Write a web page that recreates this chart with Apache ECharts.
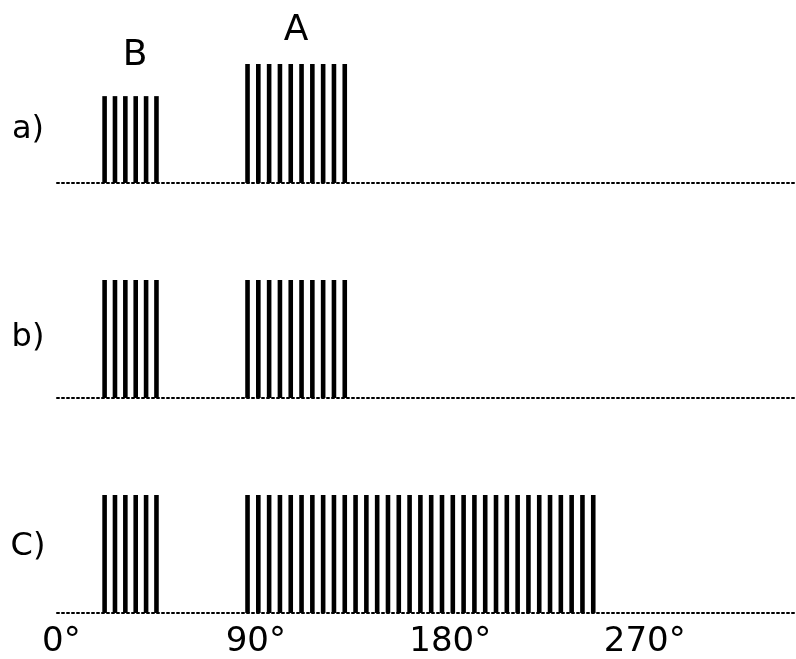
<!DOCTYPE html>
<html>
<head>
<meta charset="utf-8">
<script src="https://cdn.jsdelivr.net/npm/echarts@6/dist/echarts.min.js"></script>
<style>html,body{margin:0;padding:0;background:#fff}#c{width:796px;height:659px}</style>
</head>
<body>
<div id="c"></div>
<script>
// Pulse positions (degrees) and relative heights
const pulsesB = [21.2, 26, 30.8, 35.6, 40.4, 45.2];
const pulsesAShort = [85, 90, 95, 100, 105, 110, 115, 120, 125, 130];
const pulsesALong = [85, 90, 95, 100, 105, 110, 115, 120, 125, 130, 135, 140, 145, 150, 155, 160, 165, 170, 175, 180, 185, 190, 195, 200, 205, 210, 215, 220, 225, 230, 235, 240, 245];
const heightBa = 0.73, heightAa = 1;
const heightBb = 1, heightAb = 1;
const heightBc = 1, heightAc = 1;
const tickValues = [0, 90, 180, 270];
const rowLabels = ['a)', 'b)', 'C)'];
const groupLabels = ['B', 'A'];

const font = 'DejaVu Sans, Verdana, sans-serif';
const chart = echarts.init(document.getElementById('c'));

const grids = [
  {left: 57, right: 0, top: 64, height: 119},
  {left: 57, right: 0, top: 280, height: 118},
  {left: 57, right: 0, top: 495, height: 118}
];
const xAxes = grids.map((g, i) => ({
  type: 'value', gridIndex: i, min: -2, max: 340,
  splitLine: {show: false},
  axisTick: {show: false},
  axisLine: {show: true, onZero: true, z: 5, lineStyle: {color: '#000', width: 2, type: [2, 3]}},
  axisLabel: i === 2 ? {
    show: true, customValues: tickValues, formatter: '{value}°',
    fontSize: 34, fontFamily: font, color: '#000', margin: 12
  } : {show: false}
}));
const yAxes = grids.map((g, i) => ({
  type: 'value', gridIndex: i, min: 0, max: 1, show: false
}));
function mk(arr, h, gi) {
  return {
    type: 'bar', xAxisIndex: gi, yAxisIndex: gi, barWidth: 4.6,
    itemStyle: {color: '#000'}, silent: true,
    data: arr.map(v => [v, h])
  };
}
const series = [
  mk(pulsesB, heightBa, 0), mk(pulsesAShort, heightAa, 0),
  mk(pulsesB, heightBb, 1), mk(pulsesAShort, heightAb, 1),
  mk(pulsesB, heightBc, 2), mk(pulsesALong, heightAc, 2)
];
const txt = (t, x, y, fs) => ({
  type: 'text', x: x, y: y,
  style: {text: t, fontSize: fs, fontFamily: font, fill: '#000', align: 'center', verticalAlign: 'middle'}
});
chart.setOption({
  animation: false,
  grid: grids,
  xAxis: xAxes,
  yAxis: yAxes,
  series: series,
  graphic: [
    txt(rowLabels[0], 28, 130, 32),
    txt(rowLabels[1], 28, 338, 32),
    txt(rowLabels[2], 28, 547, 32),
    txt(groupLabels[0], 135, 56, 36),
    txt(groupLabels[1], 296, 31, 36)
  ]
});
</script>
</body>
</html>
